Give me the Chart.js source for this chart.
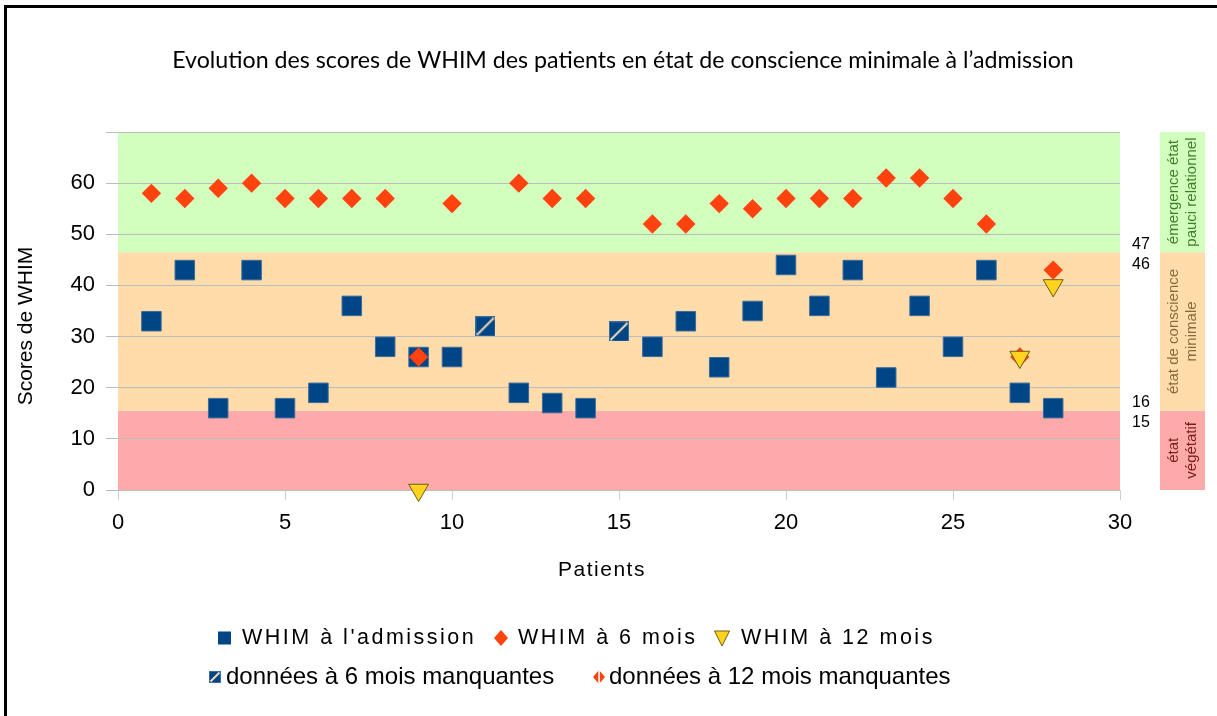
<!DOCTYPE html>
<html><head><meta charset="utf-8">
<script src="https://cdn.jsdelivr.net/npm/chart.js@4.4.1/dist/chart.umd.min.js"></script>
<style>html,body{margin:0;padding:0;background:#fff;overflow:hidden}#wrap{position:relative;width:1217px;height:716px}</style>
</head><body><div id="wrap"><canvas id="c" width="1217" height="716"></canvas></div>
<script>
// ---------- data ----------
const patients = [1,2,3,4,5,6,7,8,9,10,11,12,13,14,15,16,17,18,19,20,21,22,23,24,25,26,27,28];
const admission = [33,43,16,43,16,19,36,28,26,26,null,19,17,16,null,28,33,24,35,44,36,43,22,36,28,43,19,16];
const sixMonths = [58,57,59,60,57,57,57,57,26,56,null,60,57,57,null,52,52,56,55,57,57,57,61,61,57,52,26,43];
const twelveMonths = [null,null,null,null,null,null,null,null,0,null,null,null,null,null,null,null,null,null,null,null,null,null,null,null,null,null,26,40];
const missing6Patients = [11,15];
const missing6Values = [32,31];
const xTicks = [0,5,10,15,20,25,30];
const yTicks = [0,10,20,30,40,50,60];
const bandEdges = [0,15.5,46.5,70];
const bandLabels = [["état","végétatif"],["état de conscience","minimale"],["émergence état","pauci relationnel"]];
const thresholdLabels = [["47","46",46.5],["16","15",15.5]];
const seriesNames = ["WHIM à l'admission","WHIM à 6 mois","WHIM à 12 mois","données à 6 mois manquantes","données à 12 mois manquantes"];
const titleText = "Evolution des scores de WHIM des patients en état de conscience minimale à l’admission";

// ---------- styles ----------
const BLUE='#004586', BLUE_EDGE='#3a6c9e', RED='#ff420e', YEL='#ffd320', YEL_EDGE='#6e5d12';
const BAND_COLORS=['#ffaaaa','#ffdcaa','#d2ffbe'];
const BAND_TEXT=['#7a1c1c','#8a6a3c','#3f7f2a'];
const SANS='"Liberation Sans", Arial, sans-serif';

function toPts(xs, ys){ return xs.map((x,i)=>({x:x,y:ys[i]})).filter(p=>p.y!==null); }

function splitSquare(size){
  const c=document.createElement('canvas'); c.width=size; c.height=size;
  const g=c.getContext('2d');
  g.fillStyle=BLUE; g.fillRect(0,0,size,size);
  g.strokeStyle=BLUE_EDGE; g.lineWidth=1; g.strokeRect(0.5,0.5,size-1,size-1);
  g.strokeStyle='#f2dcb6'; g.lineWidth=2; g.beginPath(); g.moveTo(1.5,size-1.5); g.lineTo(size-1.5,1.5); g.stroke();
  return c;
}
const splitImg = splitSquare(20);

const datasets = [
  {label:seriesNames[2], data:toPts(patients,twelveMonths), pointStyle:'triangle', rotation:180, pointRadius:11.5,
   backgroundColor:YEL, borderColor:YEL_EDGE, borderWidth:1, clip:false},
  {label:seriesNames[1], data:toPts(patients,sixMonths), pointStyle:'rectRot', pointRadius:9.7,
   backgroundColor:RED, borderColor:RED, borderWidth:0, clip:false},
  {label:seriesNames[3], data:toPts(missing6Patients,missing6Values), pointStyle:splitImg, clip:false},
  {label:seriesNames[0], data:toPts(patients,admission), pointStyle:'rect', pointRadius:13.8,
   backgroundColor:BLUE, borderColor:BLUE_EDGE, borderWidth:1, clip:false},
  {label:seriesNames[4], data:[], pointStyle:'rectRot', backgroundColor:RED, clip:false}
];

function rotText(ctx, lines, cx, cy, lineH, color, font){
  ctx.save(); ctx.translate(cx,cy); ctx.rotate(-Math.PI/2);
  ctx.font=font; ctx.fillStyle=color; ctx.textAlign='center'; ctx.textBaseline='middle';
  const n=lines.length; lines.forEach((l,i)=>ctx.fillText(l,0,(i-(n-1)/2)*lineH));
  ctx.restore();
}
function spacedText(ctx, text, x, y, font, ls, align){
  ctx.save(); ctx.font=font; ctx.letterSpacing=ls+'px'; ctx.textAlign=align||'left'; ctx.textBaseline='middle';
  ctx.fillStyle='#000'; ctx.fillText(text,x,y); ctx.restore();
}

const decor = {
  id:'decor',
  beforeDraw(chart){
    const ctx=chart.ctx, a=chart.chartArea, ys=chart.scales.y;
    ctx.save();
    ctx.fillStyle='#fff'; ctx.fillRect(0,0,chart.width,chart.height);
    for(let i=0;i<3;i++){
      const t=ys.getPixelForValue(bandEdges[i+1]), b=ys.getPixelForValue(bandEdges[i]);
      ctx.fillStyle=BAND_COLORS[i];
      ctx.fillRect(a.left,t,a.right-a.left,b-t);
      ctx.fillRect(a.right+40,t,45,b-t);
    }
    // frame
    ctx.fillStyle='#000'; ctx.fillRect(4,5,3,chart.height); ctx.fillRect(4,5,chart.width,3);
    ctx.restore();
  },
  afterDraw(chart){
    const ctx=chart.ctx, a=chart.chartArea, ys=chart.scales.y;
    ctx.save();
    // title
    ctx.font='23.2px Lato, sans-serif'; ctx.fillStyle='#000'; ctx.textAlign='center'; ctx.textBaseline='middle';
    ctx.fillText(titleText,623,61);
    // axis titles
    spacedText(ctx,'Patients',602,570,'21px '+SANS,1.5,'center');
    rotText(ctx,['Scores de WHIM'],26,326,20,'#000','21px '+SANS);
    // band labels
    for(let i=0;i<3;i++){
      const t=ys.getPixelForValue(bandEdges[i+1]), b=ys.getPixelForValue(bandEdges[i]);
      rotText(ctx,bandLabels[i],a.right+62.5,(t+b)/2,18,BAND_TEXT[i],'15px '+SANS);
    }
    // threshold numbers
    ctx.font='16px '+SANS; ctx.fillStyle='#000'; ctx.textAlign='center'; ctx.textBaseline='middle';
    thresholdLabels.forEach(([up,down,v])=>{
      const p=ys.getPixelForValue(v);
      ctx.fillText(up,a.right+21,p-8); ctx.fillText(down,a.right+21,p+12);
    });
    // legend row 1
    const r1=638, r2=677;
    ctx.fillStyle=BLUE; ctx.fillRect(218,r1-6.5,13,13);
    spacedText(ctx,seriesNames[0],242,r1,'21.5px '+SANS,2.5);
    ctx.fillStyle=RED; ctx.beginPath(); ctx.moveTo(501,r1-8); ctx.lineTo(508,r1); ctx.lineTo(501,r1+8); ctx.lineTo(494,r1); ctx.closePath(); ctx.fill();
    spacedText(ctx,seriesNames[1],518,r1,'21.5px '+SANS,2.5);
    ctx.fillStyle=YEL; ctx.strokeStyle=YEL_EDGE; ctx.lineWidth=1;
    ctx.beginPath(); ctx.moveTo(714.5,r1-7); ctx.lineTo(729.5,r1-7); ctx.lineTo(722,r1+8); ctx.closePath(); ctx.fill(); ctx.stroke();
    spacedText(ctx,seriesNames[2],741,r1,'21.5px '+SANS,2.5);
    // legend row 2
    ctx.drawImage(splitSquare(12),209,r2-6,12,12);
    spacedText(ctx,seriesNames[3],226,r2,'24px '+SANS,0);
    ctx.fillStyle=RED; ctx.beginPath(); ctx.moveTo(599,r2-7); ctx.lineTo(605,r2); ctx.lineTo(599,r2+7); ctx.lineTo(593,r2); ctx.closePath(); ctx.fill();
    ctx.fillStyle='#fff'; ctx.fillRect(598.3,r2-7,1.6,14);
    spacedText(ctx,seriesNames[4],609,r2,'24px '+SANS,0);
    ctx.restore();
  }
};

new Chart(document.getElementById('c'),{
  type:'scatter',
  data:{datasets:datasets},
  options:{
    responsive:false, animation:false, events:[],
    layout:{padding:{left:0,right:97,top:132,bottom:0}},
    plugins:{legend:{display:false},title:{display:false},tooltip:{enabled:false}},
    scales:{
      x:{type:'linear',min:0,max:30,
        afterBuildTicks(s){ s.ticks=xTicks.map(v=>({value:v})); },
        ticks:{font:{family:SANS,size:22},color:'#000',padding:10,maxRotation:0},
        grid:{drawOnChartArea:false,drawTicks:true,tickLength:10,color:'#cfcfcf'},
        border:{display:false},
        afterFit(s){ s.height=226; }},
      y:{min:0,max:70,
        afterBuildTicks(s){ s.ticks=yTicks.concat([70]).map(v=>({value:v})); },
        ticks:{font:{family:SANS,size:22},color:'#000',padding:11,callback:v=>v>=70?'':v},
        grid:{color:'#bdbdbd',tickLength:12},
        border:{display:false},
        afterFit(s){ s.width=118; }}
    }
  },
  plugins:[decor]
});
</script></body></html>
